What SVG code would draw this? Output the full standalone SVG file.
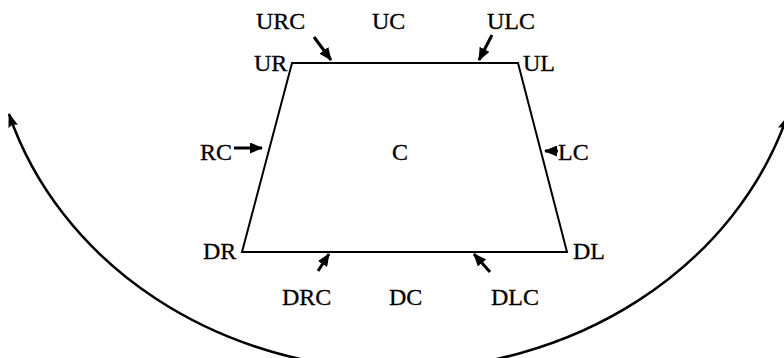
<svg xmlns="http://www.w3.org/2000/svg" width="784" height="358" viewBox="0 0 784 358">
<defs>
<marker id="big" viewBox="0 0 14 10" refX="13" refY="5" markerWidth="14" markerHeight="10" markerUnits="userSpaceOnUse" orient="auto-start-reverse">
<path d="M0,0 L14,5 L0,10 L2,5 Z" fill="#000"/>
</marker>
<marker id="small" viewBox="0 0 13 11" refX="12" refY="5.5" markerWidth="13" markerHeight="11" markerUnits="userSpaceOnUse" orient="auto">
<path d="M0,0 L13,5.5 L0,11 Z" fill="#000"/>
</marker>
</defs>
<style>
text{font-family:"Liberation Serif","Times New Roman",serif;font-size:24px;fill:#000;stroke:#000;stroke-width:0.3}
.edge{fill:none;stroke:#000;stroke-width:2}
.arr{fill:none;stroke:#000;stroke-width:3;marker-end:url(#small)}
.arc{fill:none;stroke:#000;stroke-width:2.5;marker-start:url(#big);marker-end:url(#big)}
</style>
<rect width="784" height="358" fill="#fff"/>
<g id="region">
<polygon class="edge" points="292,63 518,63 567,252 242,252"/>
<text x="392" y="160">C</text>
</g>
<g id="corners">
<text x="254" y="71">UR</text>
<text x="523" y="71">UL</text>
<text x="203" y="259">DR</text>
<text x="573" y="259">DL</text>
</g>
<g id="labels">
<text x="256" y="29">URC</text>
<text x="372" y="29">UC</text>
<text x="487" y="29">ULC</text>
<text x="200" y="160">RC</text>
<text x="558" y="160">LC</text>
<text x="282" y="305">DRC</text>
<text x="389" y="305">DC</text>
<text x="491" y="305">DLC</text>
</g>
<g id="connectors">
<line class="arr" x1="314" y1="37" x2="331" y2="60"/>
<line class="arr" x1="492" y1="35" x2="479" y2="60"/>
<line class="arr" x1="234" y1="148" x2="262" y2="148"/>
<line class="arr" x1="558" y1="151" x2="545" y2="151"/>
<line class="arr" x1="318" y1="271" x2="329" y2="254"/>
<line class="arr" x1="490" y1="272" x2="474" y2="254"/>
<path class="arc" d="M9,114 A407 360 0 0 0 787,117"/>
</g>
</svg>
